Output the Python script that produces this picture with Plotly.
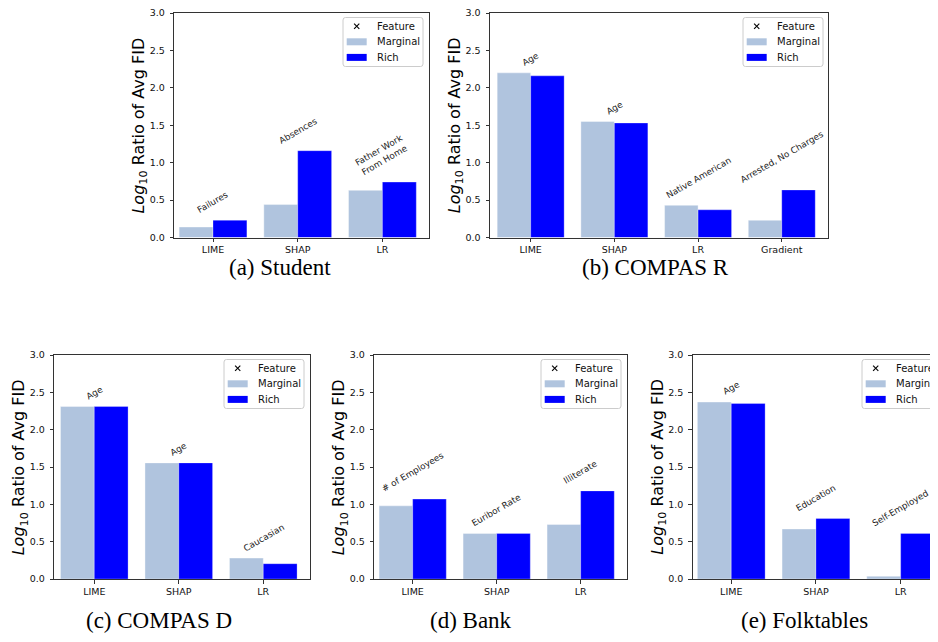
import plotly.graph_objects as go

# Page body has an 8px default margin, so the figure is drawn 8px smaller and
# every reference pixel position is shifted by OFF.
OFF = 8
W, H = 938 - OFF, 642 - OFF

# ---------------- data ----------------
methods_a = ["LIME", "SHAP", "LR"]
marginal_a = [0.14, 0.44, 0.63]
rich_a = [0.23, 1.16, 0.74]
features_a = ["Failures", "Absences", "Father Work<br>From Home"]

methods_b = ["LIME", "SHAP", "LR", "Gradient"]
marginal_b = [2.20, 1.55, 0.43, 0.23]
rich_b = [2.16, 1.53, 0.37, 0.635]
features_b = ["Age", "Age", "Native American", "Arrested, No Charges"]

methods_c = ["LIME", "SHAP", "LR"]
marginal_c = [2.31, 1.555, 0.28]
rich_c = [2.31, 1.555, 0.205]
features_c = ["Age", "Age", "Caucasian"]

methods_d = ["LIME", "SHAP", "LR"]
marginal_d = [0.98, 0.61, 0.73]
rich_d = [1.07, 0.61, 1.18]
features_d = ["# of Employees", "Euribor Rate", "Illiterate"]

methods_e = ["LIME", "SHAP", "LR"]
marginal_e = [2.37, 0.67, 0.036]
rich_e = [2.35, 0.81, 0.61]
features_e = ["Age", "Education", "Self-Employed"]

captions = ["(a) Student", "(b) COMPAS R", "(c) COMPAS D", "(d) Bank", "(e) Folktables"]
legend_labels = ["Feature", "Marginal", "Rich"]
y_ticks = [0.0, 0.5, 1.0, 1.5, 2.0, 2.5, 3.0]

panels = [
    (methods_a, marginal_a, rich_a, features_a),
    (methods_b, marginal_b, rich_b, features_b),
    (methods_c, marginal_c, rich_c, features_c),
    (methods_d, marginal_d, rich_d, features_d),
    (methods_e, marginal_e, rich_e, features_e),
]

# ---------------- layout geometry (reference pixels) ----------------
# left, right, top, bottom, legend-right
boxes = [
    (174.3, 429.0, 13.0, 237.5, 423.0),
    (490.0, 828.3, 13.0, 237.5, 823.0),
    (54.3, 310.0, 355.0, 579.0, 304.0),
    (374.3, 626.7, 355.0, 579.0, 621.0),
    (692.7, 938.0, 355.0, 579.0, 942.0),
]
xranges = [
    [-0.457, 2.55],
    [-0.486, 3.556],
    [-0.473, 2.553],
    [-0.457, 2.548],
    [-0.455, 2.441],
]
caption_pos = [(280, 267), (655, 267), (159, 620), (471, 620), (804, 620)]

MARG_COLOR = "#B0C4DE"
RICH_COLOR = "#0000FF"
FONT = "DejaVu Sans"


def px_x(v):
    return (v - OFF) / W


def px_y(v):
    return 1 - (v - OFF) / H


def rounded_rect_path(x0, y0, x1, y1, r):
    X = px_x
    Y = px_y
    p = f"M {X(x0 + r)},{Y(y0)} L {X(x1 - r)},{Y(y0)} Q {X(x1)},{Y(y0)} {X(x1)},{Y(y0 + r)} "
    p += f"L {X(x1)},{Y(y1 - r)} Q {X(x1)},{Y(y1)} {X(x1 - r)},{Y(y1)} "
    p += f"L {X(x0 + r)},{Y(y1)} Q {X(x0)},{Y(y1)} {X(x0)},{Y(y1 - r)} "
    p += f"L {X(x0)},{Y(y0 + r)} Q {X(x0)},{Y(y0)} {X(x0 + r)},{Y(y0)} Z"
    return p


fig = go.Figure()
annotations = []
shapes = []
layout_updates = {}

for i, (methods, marg, rich, feats) in enumerate(panels):
    n = i + 1
    xa = "x" if n == 1 else f"x{n}"
    ya = "y" if n == 1 else f"y{n}"
    left, right, top, bottom, lright = boxes[i]

    fig.add_trace(go.Bar(
        x=methods, y=marg, name="Marginal", marker_color=MARG_COLOR,
        marker_line=dict(width=0.8, color="rgba(255,255,255,0.45)"),
        xaxis=xa, yaxis=ya, showlegend=False,
    ))
    fig.add_trace(go.Bar(
        x=methods, y=rich, name="Rich", marker_color=RICH_COLOR,
        marker_line=dict(width=0.8, color="rgba(255,255,255,0.35)"),
        xaxis=xa, yaxis=ya, showlegend=False,
    ))

    xkey = "xaxis" if n == 1 else f"xaxis{n}"
    ykey = "yaxis" if n == 1 else f"yaxis{n}"
    layout_updates[xkey] = dict(
        domain=[px_x(left), min(1.0, px_x(right))], anchor=ya, range=xranges[i],
        type="category", categoryorder="array", categoryarray=methods,
        showline=True, mirror=True, linecolor="#333", linewidth=1,
        ticks="outside", ticklen=3.5, tickcolor="#333", tickwidth=1,
        tickfont=dict(family=FONT, size=9.5, color="#111"),
        ticklabeloverflow="allow",
        showgrid=False, zeroline=False,
    )
    layout_updates[ykey] = dict(
        domain=[px_y(bottom), px_y(top)], anchor=xa, range=[0, 3.0],
        tickvals=y_ticks, tickformat=".1f",
        showline=True, mirror=(n != 5), linecolor="#333", linewidth=1,
        ticks="outside", ticklen=3.5, tickcolor="#333", tickwidth=1,
        ticklabelstandoff=3, ticklabeloverflow="allow",
        tickfont=dict(family=FONT, size=9.5, color="#111"),
        showgrid=False, zeroline=False,
    )

    # feature labels above each pair of bars
    for m, a, b, f in zip(methods, marg, rich, feats):
        annotations.append(dict(
            x=m, y=max(a, b) + 0.03, xref=xa, yref=ya, text=f,
            showarrow=False, textangle=-30, xanchor="center", yanchor="bottom",
            align="center", font=dict(family=FONT, size=8.8, color="#222"),
        ))

    # y-axis title
    annotations.append(dict(
        x=px_x(left - 35), y=px_y((top + bottom) / 2), xref="paper", yref="paper",
        text="<i>Log</i><sub>10</sub> Ratio of Avg FID", showarrow=False,
        textangle=-90, xanchor="center", yanchor="middle",
        font=dict(family=FONT, size=16, color="black"),
    ))

    # caption
    cx, cy = caption_pos[i]
    annotations.append(dict(
        x=px_x(cx), y=px_y(cy), xref="paper", yref="paper", text=captions[i],
        showarrow=False, xanchor="center", yanchor="middle",
        font=dict(family="Liberation Serif", size=23, color="black"),
    ))

    # legend (drawn like matplotlib's: box, x marker, two patches, labels)
    bw, bh = 80.0, 49.0
    bx0 = lright - bw
    by0 = top + 4.5
    shapes.append(dict(
        type="path", xref="paper", yref="paper",
        path=rounded_rect_path(bx0, by0, bx0 + bw, by0 + bh, 2.5),
        line=dict(color="#cccccc", width=1), fillcolor="rgba(255,255,255,0.8)",
        layer="above",
    ))
    rows = [by0 + 8.7, by0 + 24.3, by0 + 39.9]
    # x marker
    mx, my, hs = bx0 + 13.7, rows[0], 2.6
    for (dx0, dy0, dx1, dy1) in [(-hs, -hs, hs, hs), (-hs, hs, hs, -hs)]:
        shapes.append(dict(
            type="line", xref="paper", yref="paper",
            x0=px_x(mx + dx0), y0=px_y(my + dy0), x1=px_x(mx + dx1), y1=px_y(my + dy1),
            line=dict(color="black", width=1.1), layer="above",
        ))
    for ry, col in zip(rows[1:], [MARG_COLOR, RICH_COLOR]):
        shapes.append(dict(
            type="rect", xref="paper", yref="paper",
            x0=px_x(bx0 + 3.7), x1=px_x(bx0 + 23.7),
            y0=px_y(ry + 3.5), y1=px_y(ry - 3.5),
            line=dict(width=0), fillcolor=col, layer="above",
        ))
    for ry, lab in zip(rows, legend_labels):
        annotations.append(dict(
            x=px_x(bx0 + 32.0), y=px_y(ry), xref="paper", yref="paper", text=lab,
            showarrow=False, xanchor="left", yanchor="middle",
            font=dict(family=FONT, size=10, color="#111"),
        ))

fig.update_layout(
    width=W, height=H,
    margin=dict(l=0, r=0, t=0, b=0, autoexpand=False),
    paper_bgcolor="white", plot_bgcolor="white",
    barmode="group", bargap=0.2, bargroupgap=0.0,
    showlegend=False,
    annotations=annotations,
    shapes=shapes,
    **layout_updates,
)

fig.write_html("out.html")
